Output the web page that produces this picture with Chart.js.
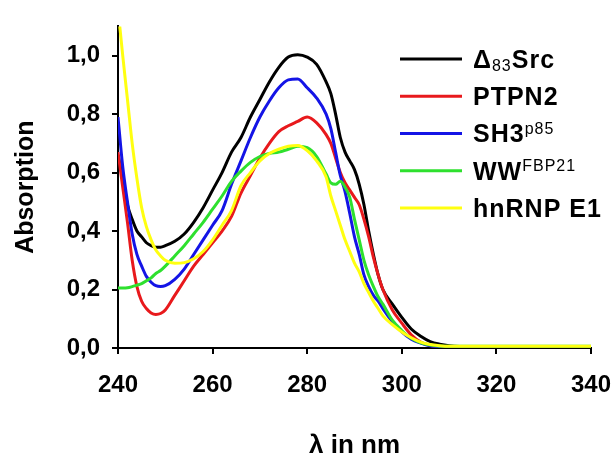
<!DOCTYPE html>
<html>
<head>
<meta charset="utf-8">
<script src="https://cdn.jsdelivr.net/npm/chart.js@4/dist/chart.umd.min.js"></script>
<style>
  html, body { margin: 0; padding: 0; background: #fff; }
  #box { width: 614px; height: 455px; }
</style>
</head>
<body>
<div id="box"><canvas id="uvChart"></canvas></div>
<script>
// wavelength grid (nm)
const wavelengths = [240, 241, 242, 243, 244, 245, 246, 247, 248, 249, 250, 252, 254, 256, 258, 260,
  262, 264, 266, 268, 270, 272, 274, 276, 278, 280, 282, 284, 285, 286, 287, 288, 289, 290, 291, 292,
  293, 294, 295, 296, 298, 300, 302, 304, 306, 308, 310, 315, 320, 330, 340];

const seriesNames = ["Δ83Src", "PTPN2", "SH3p85", "WWFBP21", "hnRNP E1"];

const srcData = [0.66, 0.58, 0.49, 0.44, 0.40, 0.38, 0.36, 0.35, 0.345, 0.345, 0.35, 0.365, 0.39, 0.43, 0.48, 0.54,
  0.60, 0.67, 0.72, 0.79, 0.85, 0.91, 0.96, 0.995, 1.003, 0.995, 0.97, 0.91, 0.87, 0.80, 0.72, 0.67, 0.64, 0.61, 0.56, 0.49,
  0.40, 0.32, 0.25, 0.20, 0.15, 0.105, 0.065, 0.04, 0.022, 0.013, 0.008, 0.005, 0.005, 0.005, 0.005];

const ptpn2Data = [0.67, 0.55, 0.43, 0.30, 0.21, 0.16, 0.135, 0.12, 0.115, 0.118, 0.13, 0.18, 0.23, 0.28, 0.32, 0.36,
  0.40, 0.45, 0.53, 0.59, 0.65, 0.70, 0.74, 0.76, 0.775, 0.79, 0.77, 0.73, 0.70, 0.65, 0.60, 0.565, 0.54, 0.515, 0.49, 0.44,
  0.38, 0.31, 0.25, 0.20, 0.13, 0.085, 0.045, 0.02, 0.008, 0.004, 0.003, 0.003, 0.003, 0.003, 0.003];

const sh3Data = [0.79, 0.62, 0.50, 0.39, 0.32, 0.28, 0.245, 0.225, 0.213, 0.21, 0.213, 0.235, 0.27, 0.32, 0.37, 0.42,
  0.47, 0.56, 0.64, 0.72, 0.79, 0.845, 0.89, 0.917, 0.92, 0.89, 0.855, 0.80, 0.75, 0.67, 0.59, 0.535, 0.46, 0.38, 0.32, 0.25,
  0.21, 0.18, 0.16, 0.135, 0.09, 0.055, 0.03, 0.017, 0.008, 0.005, 0.004, 0.004, 0.004, 0.004, 0.004];

const wwData = [0.205, 0.205, 0.206, 0.21, 0.215, 0.22, 0.23, 0.24, 0.255, 0.265, 0.28, 0.315, 0.35, 0.39, 0.43, 0.475,
  0.52, 0.57, 0.605, 0.635, 0.655, 0.665, 0.67, 0.68, 0.69, 0.685, 0.655, 0.595, 0.565, 0.56, 0.57, 0.55, 0.515, 0.44, 0.37, 0.30,
  0.25, 0.21, 0.175, 0.15, 0.095, 0.06, 0.033, 0.018, 0.01, 0.007, 0.006, 0.006, 0.006, 0.006, 0.006];

const hnrnpData = [1.16, 1.00, 0.85, 0.70, 0.58, 0.48, 0.415, 0.37, 0.335, 0.315, 0.30, 0.29, 0.292, 0.305, 0.33, 0.37,
  0.42, 0.47, 0.555, 0.60, 0.64, 0.665, 0.68, 0.69, 0.693, 0.675, 0.64, 0.585, 0.52, 0.47, 0.42, 0.37, 0.33, 0.29, 0.26, 0.22,
  0.19, 0.16, 0.135, 0.11, 0.08, 0.055, 0.035, 0.02, 0.012, 0.008, 0.006, 0.006, 0.006, 0.006, 0.006];

const seriesColors = ["#000000", "#e8191c", "#1414e6", "#2ee02e", "#ffff10"];

// legend text pieces: [main, small, small-is-superscript, rest]
const legendParts = [
  ["Δ", "83", false, "Src"],
  ["PTPN2", "", false, ""],
  ["SH3", "p85", true, ""],
  ["WW", "FBP21", true, ""],
  ["hnRNP E1", "", false, ""],
];

const allData = [srcData, ptpn2Data, sh3Data, wwData, hnrnpData];

const FONT = "'Liberation Sans', Arial, sans-serif";

// Legende selbst zeichnen (Hoch-/Tiefstellung)
const richLegend = {
  id: "richLegend",
  afterDraw(chart) {
    const ctx = chart.ctx;
    ctx.save();
    ctx.textBaseline = "middle";
    legendParts.forEach((p, i) => {
      const y = 59 + i * 37.25;
      ctx.strokeStyle = seriesColors[i];
      ctx.lineWidth = 3;
      ctx.beginPath();
      ctx.moveTo(400, y);
      ctx.lineTo(462, y);
      ctx.stroke();

      const ty = y + 2;
      let x = 473;
      ctx.fillStyle = "#000";
      ctx.letterSpacing = "1px";
      ctx.font = "bold 25px " + FONT;
      ctx.fillText(p[0], x, ty);
      x += ctx.measureText(p[0]).width;
      if (p[1]) {
        ctx.font = "16px " + FONT;
        ctx.fillText(p[1], x, p[2] ? ty - 6 : ty + 6);
        x += ctx.measureText(p[1]).width;
      }
      if (p[3]) {
        ctx.font = "bold 25px " + FONT;
        ctx.fillText(p[3], x, ty);
      }
    });
    ctx.restore();
  },
};

const ctx = document.querySelector("#uvChart").getContext("2d");

new Chart(ctx, {
  type: "line",
  data: {
    labels: wavelengths,
    datasets: allData.map((d, i) => ({
      label: seriesNames[i],
      data: d.map((v, k) => ({ x: wavelengths[k], y: v })),
      borderColor: seriesColors[i],
      borderWidth: 3,
      pointRadius: 0,
      cubicInterpolationMode: "monotone",
      fill: false,
      order: 5 - i,
    })),
  },
  options: {
    responsive: true,
    maintainAspectRatio: false,
    animation: false,
    layout: { padding: { top: 12, right: 23, left: 0, bottom: 0 } },
    plugins: {
      legend: { display: false },
      tooltip: { enabled: false },
    },
    scales: {
      x: {
        type: "linear",
        min: 240,
        max: 340,
        afterFit: (s) => {
          s.height = 107;
          s.paddingLeft = 0;
          s.paddingRight = 0;
        },
        border: { color: "#000", width: 2 },
        grid: { drawOnChartArea: false, drawTicks: true, tickLength: 6, color: "#000", lineWidth: 2 },
        ticks: {
          stepSize: 20,
          color: "#000",
          padding: 17,
          font: { family: FONT, size: 24, weight: "bold" },
        },
        title: {
          display: true,
          text: "λ in nm",
          color: "#000",
          padding: { top: 0, bottom: -6 },
          font: { family: FONT, size: 26, weight: "bold" },
        },
      },
      y: {
        min: 0,
        max: 1.1,
        afterFit: (s) => { s.width = 118; },
        afterBuildTicks: (s) => { s.ticks = s.ticks.filter((t) => t.value <= 1.0001); },
        border: { color: "#000", width: 2 },
        grid: { drawOnChartArea: false, drawTicks: true, tickLength: 6, color: "#000", lineWidth: 2 },
        ticks: {
          stepSize: 0.2,
          color: "#000",
          padding: 12,
          font: { family: FONT, size: 24, weight: "bold" },
          callback: (value) => value.toFixed(1).replace(".", ","),
        },
        title: {
          display: true,
          text: "Absorption",
          color: "#000",
          padding: { top: 11, bottom: 0 },
          font: { family: FONT, size: 25, weight: "bold" },
        },
      },
    },
  },
  plugins: [richLegend],
});
</script>
</body>
</html>
